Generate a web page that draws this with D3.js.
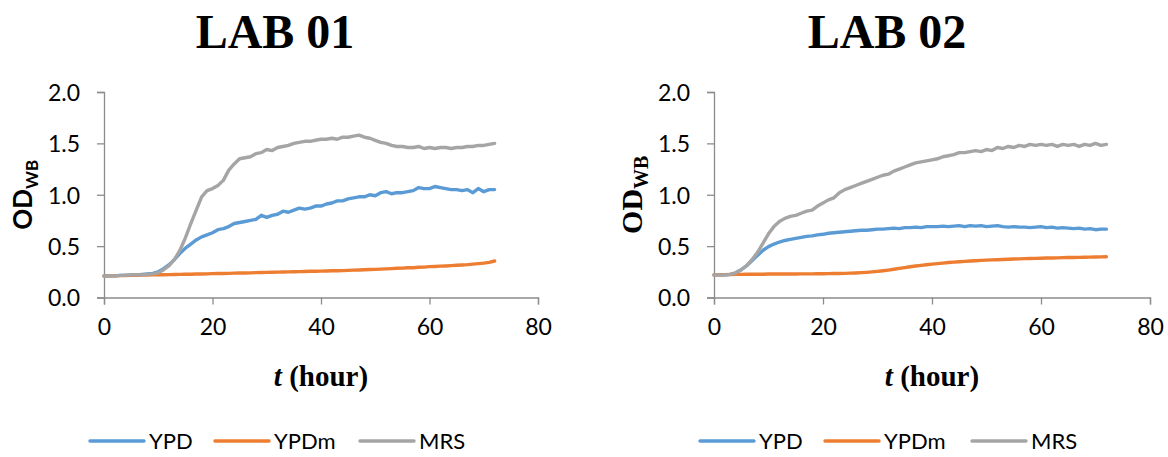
<!DOCTYPE html>
<html><head><meta charset="utf-8">
<script src="https://cdn.jsdelivr.net/npm/d3@7"></script>
<style>
html,body{margin:0;padding:0;background:#fff;}
svg{display:block;}
</style></head>
<body>
<svg id="chart" width="1168" height="457"></svg>
<script>
const hours = d3.range(0, 73);
const xTicks = [0, 20, 40, 60, 80];
const yTicks = [0, 0.5, 1.0, 1.5, 2.0];
const seriesNames = ["YPD", "YPDm", "MRS"];
const seriesColors = ["#5B9BD5", "#ED7D31", "#A5A5A5"];
const panelTitles = ["LAB 01", "LAB 02"];

const lab1YPD = [0.21,0.21,0.21,0.215,0.215,0.22,0.22,0.225,0.23,0.235,0.25,0.28,0.32,0.37,0.43,0.48,0.52,0.56,0.59,0.61,0.63,0.66,0.67,0.69,0.72,0.73,0.74,0.75,0.76,0.80,0.78,0.80,0.81,0.84,0.83,0.85,0.87,0.86,0.87,0.89,0.89,0.91,0.92,0.94,0.94,0.96,0.97,0.98,0.98,1.00,0.99,1.02,1.03,1.01,1.02,1.02,1.03,1.04,1.07,1.06,1.06,1.08,1.07,1.06,1.05,1.05,1.04,1.05,1.02,1.06,1.03,1.05,1.05];
const lab1YPDm = [0.21,0.21,0.212,0.213,0.214,0.215,0.216,0.218,0.219,0.22,0.221,0.222,0.223,0.224,0.225,0.226,0.227,0.228,0.229,0.23,0.232,0.233,0.234,0.235,0.237,0.238,0.239,0.24,0.242,0.243,0.245,0.246,0.247,0.248,0.249,0.25,0.252,0.253,0.255,0.256,0.257,0.258,0.26,0.261,0.262,0.264,0.266,0.268,0.27,0.272,0.274,0.276,0.279,0.281,0.284,0.286,0.289,0.29,0.294,0.296,0.30,0.302,0.305,0.307,0.31,0.314,0.317,0.32,0.325,0.33,0.335,0.342,0.355];
const lab1MRS = [0.21,0.21,0.21,0.215,0.215,0.22,0.22,0.22,0.225,0.23,0.24,0.27,0.31,0.37,0.46,0.58,0.72,0.85,0.98,1.04,1.06,1.09,1.14,1.24,1.30,1.35,1.36,1.37,1.40,1.41,1.44,1.43,1.46,1.47,1.48,1.50,1.51,1.52,1.52,1.53,1.54,1.54,1.55,1.54,1.56,1.56,1.57,1.58,1.56,1.55,1.53,1.51,1.50,1.48,1.47,1.47,1.46,1.46,1.47,1.45,1.46,1.45,1.46,1.46,1.45,1.46,1.46,1.47,1.47,1.48,1.48,1.49,1.50];

const lab2YPD = [0.22,0.22,0.22,0.225,0.24,0.27,0.31,0.36,0.41,0.46,0.495,0.52,0.54,0.555,0.565,0.575,0.585,0.595,0.60,0.61,0.615,0.625,0.63,0.635,0.64,0.645,0.65,0.655,0.655,0.66,0.665,0.665,0.67,0.675,0.67,0.68,0.68,0.685,0.68,0.69,0.69,0.69,0.695,0.69,0.695,0.70,0.69,0.70,0.695,0.70,0.69,0.695,0.70,0.69,0.685,0.69,0.685,0.685,0.68,0.685,0.69,0.68,0.685,0.675,0.68,0.675,0.67,0.675,0.665,0.67,0.66,0.665,0.665];
const lab2YPDm = [0.22,0.222,0.223,0.224,0.225,0.225,0.226,0.226,0.227,0.227,0.228,0.228,0.228,0.229,0.229,0.229,0.23,0.23,0.23,0.231,0.231,0.232,0.233,0.234,0.235,0.237,0.239,0.242,0.245,0.249,0.254,0.26,0.267,0.275,0.283,0.291,0.299,0.306,0.313,0.319,0.325,0.33,0.335,0.34,0.344,0.348,0.352,0.355,0.358,0.361,0.364,0.366,0.368,0.37,0.372,0.374,0.376,0.378,0.379,0.381,0.382,0.384,0.385,0.386,0.388,0.389,0.39,0.391,0.392,0.393,0.394,0.395,0.396];
const lab2MRS = [0.22,0.22,0.22,0.225,0.24,0.27,0.31,0.37,0.44,0.53,0.62,0.69,0.74,0.77,0.79,0.80,0.82,0.84,0.85,0.89,0.92,0.95,0.97,1.02,1.05,1.07,1.09,1.11,1.13,1.15,1.17,1.19,1.20,1.23,1.25,1.27,1.29,1.31,1.32,1.33,1.34,1.35,1.37,1.38,1.39,1.41,1.41,1.42,1.43,1.42,1.44,1.43,1.46,1.45,1.47,1.46,1.48,1.47,1.49,1.48,1.49,1.48,1.49,1.47,1.49,1.48,1.49,1.47,1.49,1.48,1.50,1.48,1.49];

const panels = [
  {title: panelTitles[0], data: [lab1YPD, lab1YPDm, lab1MRS], x0: 104, x1: 538, titleX: 275, yLabelX: 32, serifY: false, legendX: [90, 215, 360]},
  {title: panelTitles[1], data: [lab2YPD, lab2YPDm, lab2MRS], x0: 714, x1: 1150, titleX: 887, yLabelX: 642, serifY: true, legendX: [700, 825, 972]}
];

const svg = d3.select("#chart");
const yTop = 92, yBot = 297.5;
const axisColor = "#8c8c8c";
const sansFont = "Lato, 'Open Sans', sans-serif";
const serifFont = "'Liberation Serif', 'Times New Roman', serif";

panels.forEach(p => {
  const g = svg.append("g");
  const x = d3.scaleLinear().domain([0, 80]).range([p.x0, p.x1]);
  const y = d3.scaleLinear().domain([0, 2]).range([yBot, yTop]);

  // title
  g.append("text").attr("x", p.titleX).attr("y", 48).attr("text-anchor", "middle")
    .style("font-family", serifFont).style("font-weight", "bold").style("font-size", "48px")
    .text(p.title);

  // axes
  const xAxis = g.append("g").attr("transform", `translate(0,${yBot})`)
    .call(d3.axisBottom(x).tickValues(xTicks).tickSize(7).tickSizeOuter(7).tickPadding(14).tickFormat(d3.format("d")));
  const yAxis = g.append("g").attr("transform", `translate(${p.x0},0)`)
    .call(d3.axisLeft(y).tickValues(yTicks).tickSize(7).tickSizeOuter(7).tickPadding(17).tickFormat(d3.format(".1f")));
  [xAxis, yAxis].forEach(a => {
    a.select(".domain").attr("stroke", axisColor).attr("stroke-width", 1.3);
    a.selectAll(".tick line").attr("stroke", axisColor).attr("stroke-width", 1.3);
    a.selectAll(".tick text").attr("fill", "#000").style("font-family", sansFont).style("font-size", "23px");
  });
  yAxis.selectAll(".tick text").attr("dy", "0.36em");
  xAxis.selectAll(".tick text").attr("dy", "0.72em");

  // lines
  const line = d3.line().x((d, i) => x(hours[i])).y(d => y(d));
  p.data.forEach((vals, si) => {
    g.append("path").datum(vals).attr("d", line).attr("fill", "none")
      .attr("stroke", seriesColors[si]).attr("stroke-width", 3.4)
      .attr("stroke-linejoin", "round").attr("stroke-linecap", "round");
  });

  // x-axis title
  const xt = g.append("text").attr("x", (p.x0 + p.x1) / 2).attr("y", 386).attr("text-anchor", "middle")
    .style("font-family", serifFont).style("font-weight", "bold").style("font-size", "29px");
  xt.append("tspan").style("font-style", "italic").text("t");
  xt.append("tspan").text(" (hour)");

  // y-axis title
  const yt = g.append("text").attr("transform", `translate(${p.yLabelX},${(yTop + yBot) / 2}) rotate(-90)`)
    .attr("text-anchor", "middle")
    .style("font-family", p.serifY ? serifFont : sansFont).style("font-weight", "bold").style("font-size", p.serifY ? "30px" : "26px");
  yt.append("tspan").text("OD");
  yt.append("tspan").attr("dy", 6).style("font-size", p.serifY ? "20px" : "17px").text("WB");

  // legend
  const lg = g.append("g").selectAll("g").data(seriesNames).join("g")
    .attr("transform", (d, i) => `translate(${p.legendX[i]},441)`);
  lg.append("line").attr("x1", 0).attr("x2", 54).attr("y1", 0).attr("y2", 0)
    .attr("stroke", (d, i) => seriesColors[i]).attr("stroke-width", 3.4).attr("stroke-linecap", "round");
  lg.append("text").attr("x", 59).attr("y", 0).attr("dy", "0.36em")
    .style("font-family", sansFont).style("font-size", "22px").attr("fill", "#000").text(d => d);
});
</script>
</body></html>
